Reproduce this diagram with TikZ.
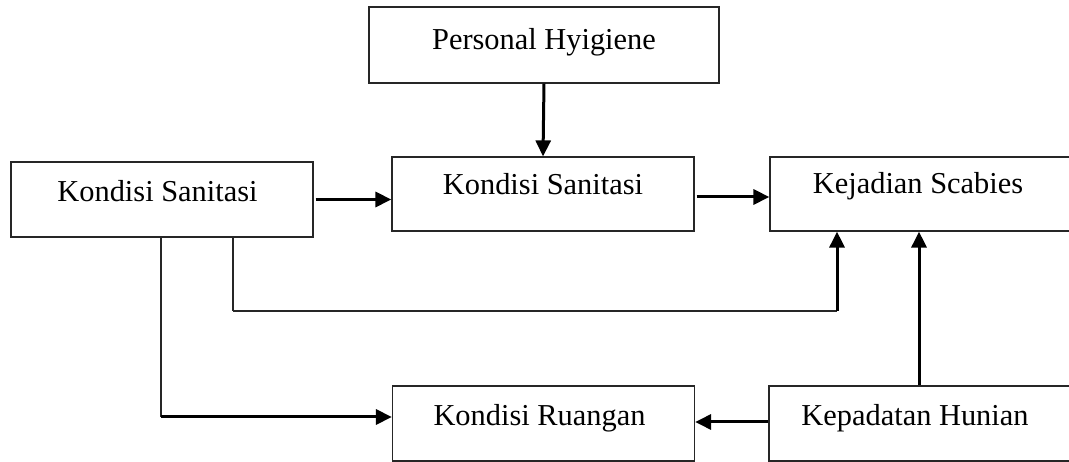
\documentclass[tikz,border=0pt]{standalone}
\usepackage{fontspec}
\setmainfont{Liberation Serif}
\usetikzlibrary{arrows.meta}
\begin{document}
\begin{tikzpicture}[x=1pt, y=-1pt,
    box/.style={draw=black!85, line width=1.2pt, inner sep=0pt,
      minimum width=302pt, minimum height=75pt,
      font=\fontsize{30.4}{36}\selectfont, text height=20pt, text depth=16pt},
    arrow/.style={line width=3pt, -{Triangle[length=16pt,width=15pt]}},
    link/.style={line width=1.2pt, draw=black!85}]
    \useasboundingbox (0,0) rectangle (1069,462);

    % Boxes
    \node[box, minimum width=350pt, minimum height=76pt, text depth=10pt] (hyg) at (544,45) {Personal Hyigiene};
    \node[box] (sanL) at (162,199.5) {Kondisi Sanitasi\hspace*{9pt}};
    \node[box, minimum height=74pt, text depth=18pt] (sanM) at (543,194) {Kondisi Sanitasi};
    \node[box, minimum width=316pt, minimum height=74pt, text depth=20pt] (scab) at (928,194) {Kejadian Scabies\hspace*{20pt}};
    \node[box] (ruang) at (543.5,423.5) {Kondisi Ruangan\hspace*{8pt}};
    \node[box, minimum width=316pt] (padat) at (927,423.5) {Kepadatan Hunian\hspace*{24pt}};

    % Bend points
    \coordinate (bendA) at (233,311);
    \coordinate (bendB) at (837,311);
    \coordinate (bendC) at (161,417);
    \coordinate (bendD) at (919,386);

    % Arrows
    \draw[arrow] (hyg.south) -- (sanM.north);
    \draw[arrow] ([xshift=2pt]sanL.east) -- (sanL.east -| sanM.west);
    \draw[arrow] ([xshift=2pt, yshift=-3pt]sanM.east) -- ([yshift=-3pt]scab.west);
    \draw[link] (sanL.south -| bendA) -- (bendA);
    \draw[link, line width=1.7pt] (bendA) -- (bendB);
    \draw[arrow] (bendB) -- (bendB |- scab.south);
    \draw[link] (sanL.south -| bendC) -- (bendC);
    \draw[arrow] (bendC) -- (bendC -| ruang.west);
    \draw[arrow] (padat.north -| bendD) -- (bendD |- scab.south);
    \draw[arrow] ([yshift=1.5pt]padat.west) -- ([yshift=1.5pt]ruang.east);
\end{tikzpicture}
\end{document}
